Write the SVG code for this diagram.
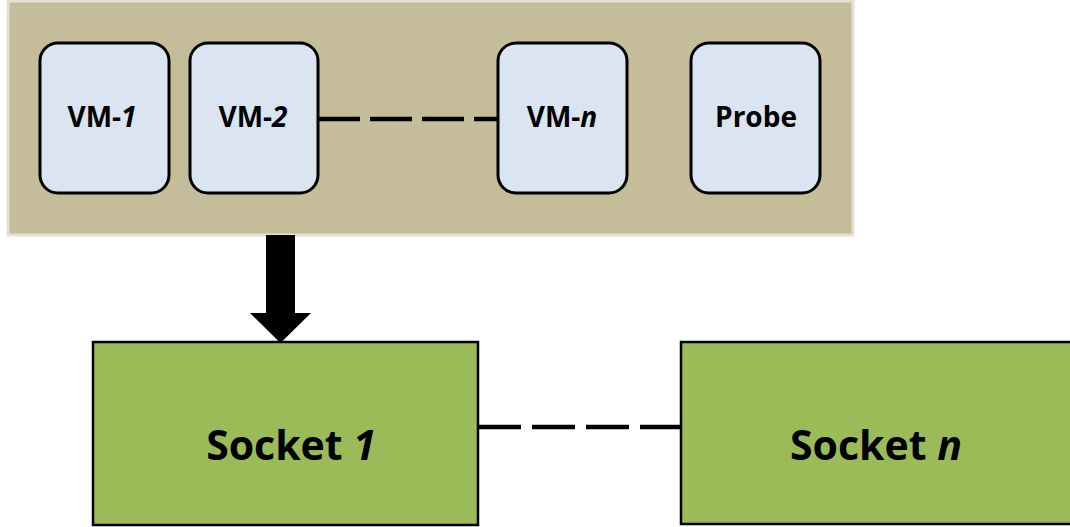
<svg xmlns="http://www.w3.org/2000/svg" width="1070" height="527" viewBox="0 0 1070 527">
  <style>
    .vm { fill: #dbe5f1; stroke: #000; stroke-width: 3; }
    .socket { fill: #9bbb59; stroke: #000; stroke-width: 2.5; }
    .label { font-family: "Open Sans", "Liberation Sans", sans-serif; font-weight: bold; fill: #000; text-anchor: middle; }
    .vmtxt { font-size: 28px; }
    .socktxt { font-size: 41px; }
    .dash { stroke: #000; stroke-width: 4.5; fill: none; }
  </style>
  <rect width="1070" height="527" fill="#ffffff"/>

  <!-- host container -->
  <g id="host">
    <rect x="8" y="1" width="845" height="234" fill="#c5bd99" stroke="#e4e1d4" stroke-width="3"/>
  </g>

  <!-- connectors -->
  <g id="connectors">
    <line class="dash" x1="318" y1="119" x2="498" y2="119" stroke-dasharray="42 10"/>
    <line class="dash" x1="478" y1="427" x2="681" y2="427" stroke-dasharray="43 11"/>
    <polygon points="266,235 295,235 295,313 311,313 280.5,343 250,313 266,313" fill="#000"/>
  </g>

  <g id="vm1">
    <rect class="vm" x="40" y="43" width="129" height="150" rx="18"/>
    <text class="label vmtxt" x="102" y="127">VM-<tspan font-style="italic">1</tspan></text>
  </g>
  <g id="vm2">
    <rect class="vm" x="190" y="43" width="128" height="150" rx="18"/>
    <text class="label vmtxt" x="253" y="127">VM-<tspan font-style="italic">2</tspan></text>
  </g>
  <g id="vmn">
    <rect class="vm" x="498" y="43" width="129" height="150" rx="18"/>
    <text class="label vmtxt" x="562" y="127">VM-<tspan font-style="italic">n</tspan></text>
  </g>
  <g id="probe">
    <rect class="vm" x="691" y="43" width="129" height="150" rx="18"/>
    <text class="label vmtxt" x="756" y="127">Probe</text>
  </g>

  <g id="socket1">
    <rect class="socket" x="93" y="342" width="385" height="183"/>
    <text class="label socktxt" x="291" y="460">Socket <tspan font-style="italic">1</tspan></text>
  </g>
  <g id="socketn">
    <rect class="socket" x="681" y="342" width="400" height="182"/>
    <text class="label socktxt" x="876" y="460">Socket <tspan font-style="italic">n</tspan></text>
  </g>
</svg>
